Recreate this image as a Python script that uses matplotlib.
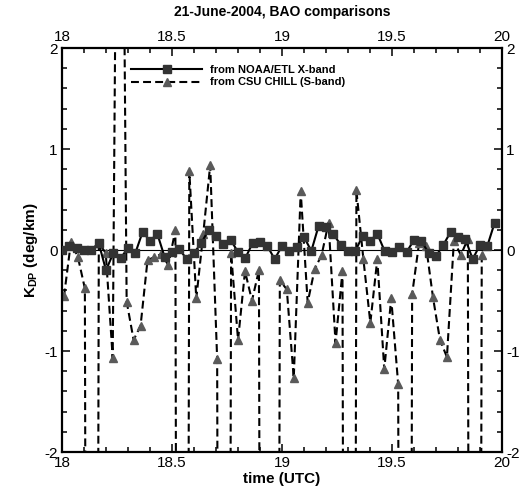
import numpy as np
import matplotlib
matplotlib.use("Agg")
import matplotlib.pyplot as plt

plt.rcParams["font.family"] = ["Liberation Sans", "DejaVu Sans"]
plt.rcParams["mathtext.fontset"] = "custom"
plt.rcParams["mathtext.rm"] = "Liberation Sans"
plt.rcParams["mathtext.bf"] = "Liberation Sans:bold"
plt.rcParams["axes.unicode_minus"] = False

# NOAA/ETL X-band, one value every 2 minutes from 18:00 UTC
xband_time = 18 + np.arange(60) * 2 / 60
xband_kdp = [0.00, 0.04, 0.02, 0.00, 0.00, 0.07, -0.20, -0.03, -0.08, 0.02,
             -0.03, 0.18, 0.09, 0.16, -0.07, -0.02, 0.01, -0.09, -0.03, 0.07,
             0.20, 0.14, 0.06, 0.10, -0.02, -0.08, 0.07, 0.08, 0.04, -0.09,
             0.04, -0.01, 0.03, 0.13, -0.01, 0.24, 0.23, 0.16, 0.05, -0.01,
             -0.01, 0.14, 0.09, 0.16, -0.01, -0.02, 0.03, -0.02, 0.10, 0.09,
             -0.03, -0.06, 0.05, 0.18, 0.13, 0.11, -0.09, 0.05, 0.04, 0.27]

# CSU CHILL S-band (off-scale values run past the axis limits)
sband_time = np.linspace(18.009, 19.908, 61)
sband_kdp = [-0.46, 0.08, -0.07, -0.38, -30.0, 0.07, -0.03, -1.07, 8.0, -0.51,
             -0.89, -0.75, -0.10, -0.07, -0.04, -0.15, 0.20, -30.0, 0.78, -0.48,
             0.16, 0.84, -1.08, -30.0, -0.03, -0.89, -0.21, -0.50, -0.20, -30.0,
             -30.0, -0.30, -0.39, -1.27, 0.58, -0.52, -0.19, -0.05, 0.27, -0.92,
             -0.21, -30.0, 0.59, -0.09, -0.72, -0.09, -1.18, -0.48, -1.33, -30.0,
             -0.44, 0.07, 0.04, -0.47, -0.89, -1.06, 0.09, -0.05, 0.11, -30.0,
             -0.05]

fig = plt.figure(figsize=(5.21, 4.91), dpi=100)
ax = fig.add_axes([0.119, 0.0794, 0.8445, 0.8228])

ax.axhline(0, color="black", lw=0.8, zorder=1)
ax.plot(xband_time, xband_kdp, "-s", color="black", mfc="#333333", mec="#333333",
        lw=1.5, ms=5.5, label="from NOAA/ETL X-band", zorder=3)
ax.plot(sband_time, sband_kdp, "--^", color="black", mfc="#5a5a5a", mec="#5a5a5a",
        lw=1.5, ms=5.5, dashes=(3.8, 2.0), label="from CSU CHILL (S-band)", zorder=2)

ax.set_xlim(18, 20)
ax.set_ylim(-2, 2)
ax.set_xticks([18, 18.5, 19, 19.5, 20])
ax.set_xticklabels(["18", "18.5", "19", "19.5", "20"])
ax.set_xticks(np.arange(18, 20.01, 0.1), minor=True)
ax.set_yticks([-2, -1, 0, 1, 2])
ax.set_yticks(np.arange(-2, 2.01, 0.2), minor=True)

ax.tick_params(which="both", direction="in", top=True, right=True,
               labeltop=True, labelright=True, labelsize=11, width=1.1)
ax.tick_params(which="major", length=6, pad=3)
ax.tick_params(which="minor", length=3.5)
for s in ax.spines.values():
    s.set_linewidth(1.6)

ax.set_xlabel("time (UTC)", fontsize=11, fontweight="bold", labelpad=1)
ax.set_ylabel(r"K$_{\mathbf{DP}}$ (deg/km)", fontsize=11, fontweight="bold", labelpad=3)
ax.set_title("21-June-2004, BAO comparisons", fontsize=10, fontweight="bold", pad=10)

leg = ax.legend(loc="upper left", bbox_to_anchor=(0.157, 0.958), frameon=False,
                borderpad=0, borderaxespad=0, handlelength=6.4, handletextpad=0.7,
                labelspacing=0.22, numpoints=1, prop={"size": 8, "weight": "bold"})

fig.savefig("out.png", dpi=100)
